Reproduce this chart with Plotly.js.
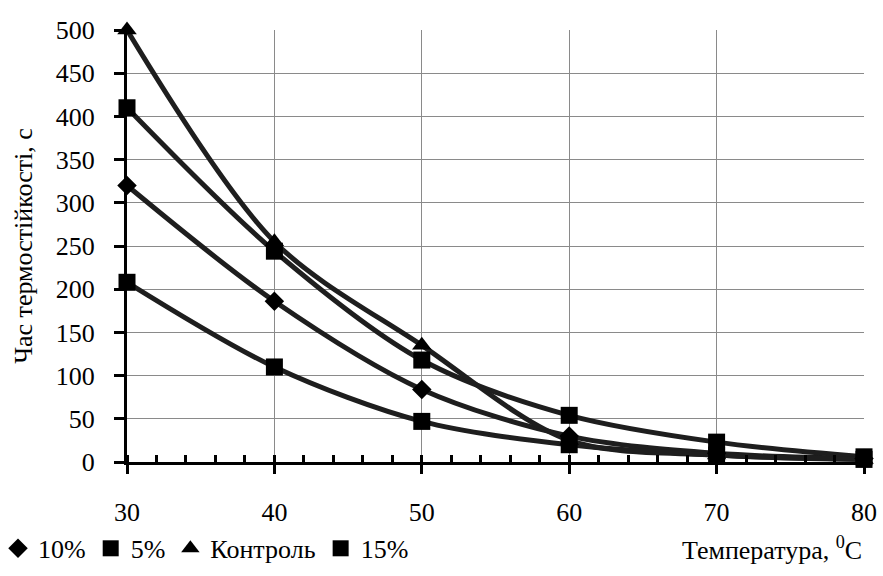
<!DOCTYPE html>
<html>
<head>
<meta charset="utf-8">
<script src="https://cdn.plot.ly/plotly-3.0.1.min.js"></script>
<style>
html,body{margin:0;padding:0;background:#fff;}
#chart{width:883px;height:576px;}
</style>
</head>
<body>
<div id="chart"></div>
<script>
const temperature = [30, 40, 50, 60, 70, 80];
const seriesNames = ["10%", "5%", "Контроль", "15%"];
const values10 = [320, 186, 84, 30, 10, 4];
const values5 = [410, 244, 118, 54, 23, 6];
const valuesControl = [500, 255, 135, 25, 8, 3];
const values15 = [208, 110, 47, 20, 8, 3];
const symbols = ["diamond", "square", "triangle-up", "square"];
const markerSizes = [15, 17, 17, 17];
const xTitle = "Температура, <sup>0</sup>C";
const yTitle = "Час термостійкості, с";

const allValues = [values10, values5, valuesControl, values15];

const traces = [];
allValues.forEach((vals, i) => {
  traces.push({
    x: temperature, y: vals, mode: "lines", type: "scatter",
    line: {color: "#1e1e1e", width: 5, shape: "spline", smoothing: 0.9},
    showlegend: false, hoverinfo: "skip", cliponaxis: false
  });
});
allValues.forEach((vals, i) => {
  traces.push({
    x: temperature, y: vals, mode: "markers", type: "scatter",
    name: seriesNames[i],
    marker: {symbol: symbols[i], size: markerSizes[i], color: "#000"},
    cliponaxis: false
  });
});

const layout = {
  width: 883, height: 576,
  margin: {l: 127, r: 19, t: 30, b: 114, autoexpand: false},
  showlegend: true,
  legend: {orientation: "h", x: -0.175, xanchor: "left", y: -0.2, yanchor: "middle",
           font: {family: "Liberation Serif", size: 26, color: "#000"}, itemwidth: 30},
  xaxis: {
    range: [30, 80], dtick: 10, tick0: 30, automargin: false,
    showgrid: true, gridcolor: "#8a8a8a", gridwidth: 1,
    showline: true, linecolor: "#000", linewidth: 3,
    ticks: "outside", ticklen: 9, tickwidth: 3, tickcolor: "#000",
    minor: {dtick: 2, tick0: 30, ticks: "inside", ticklen: 7, tickwidth: 3, tickcolor: "#000", showgrid: false},
    tickfont: {family: "Liberation Serif", size: 26, color: "#000"}, ticklabelstandoff: 16,
    zeroline: false
  },
  yaxis: {
    range: [0, 500], dtick: 50, automargin: false,
    showgrid: true, gridcolor: "#8a8a8a", gridwidth: 1,
    showline: true, linecolor: "#000", linewidth: 3,
    ticks: "outside", ticklen: 10, tickwidth: 3, tickcolor: "#000",
    tickfont: {family: "Liberation Serif", size: 26, color: "#000"}, ticklabelstandoff: 14,
    title: {text: yTitle, font: {family: "Liberation Serif", size: 26, color: "#000"}, standoff: 16},
    zeroline: false
  },
  annotations: [{
    text: xTitle, xref: "paper", yref: "paper", x: 1.0, y: -0.2,
    xanchor: "right", yanchor: "middle", showarrow: false,
    font: {family: "Liberation Serif", size: 26, color: "#000"}
  }]
};

Plotly.newPlot("chart", traces, layout, {staticPlot: true});
</script>
</body>
</html>
